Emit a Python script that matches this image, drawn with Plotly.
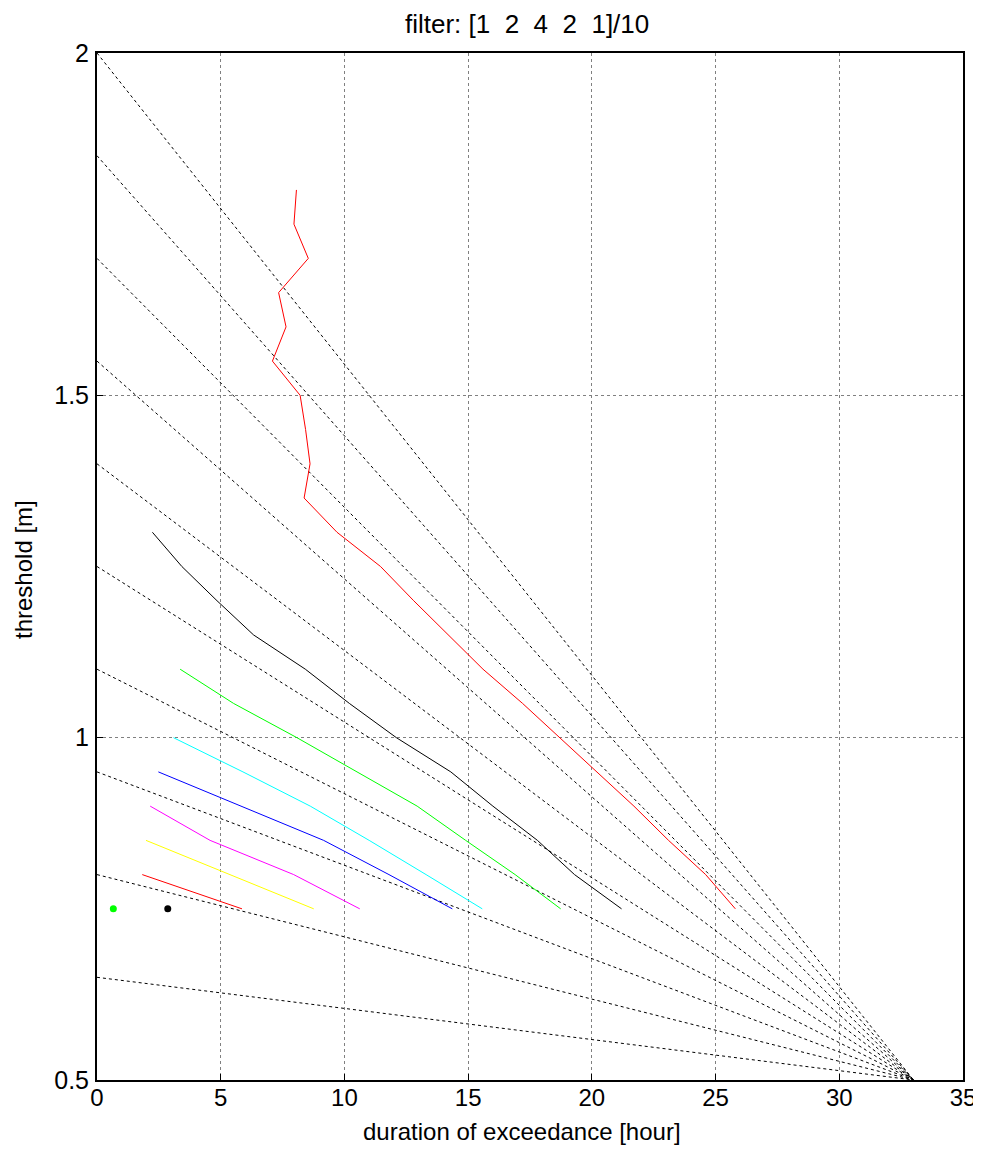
import plotly.graph_objects as go

# Reference lines: start thresholds at x=0, all converge to (33, 0.5)
ref_start = [2.0, 1.85, 1.7, 1.55, 1.4, 1.25, 1.1, 0.95, 0.8, 0.65]
ref_end_x = 33.0
ref_end_y = 0.5

# Curves (duration [hour], threshold [m])
red1_y = [1.80, 1.75, 1.70, 1.65, 1.60, 1.55, 1.50, 1.45, 1.40, 1.35, 1.30, 1.25, 1.20, 1.15, 1.10, 1.05, 1.00, 0.95, 0.90, 0.85, 0.80, 0.75]
red1_x = [8.06, 7.96, 8.54, 7.34, 7.64, 7.09, 8.21, 8.43, 8.61, 8.37, 9.70, 11.46, 12.8, 14.2, 15.6, 17.2, 18.7, 20.2, 21.7, 23.1, 24.6, 25.8]

black_y = [1.30, 1.25, 1.20, 1.15, 1.10, 1.05, 1.00, 0.95, 0.90, 0.85, 0.80, 0.75]
black_x = [2.24, 3.43, 4.85, 6.33, 8.42, 10.2, 12.1, 14.3, 16.0, 17.8, 19.3, 21.2]

green_y = [1.10, 1.05, 1.00, 0.95, 0.90, 0.85, 0.80, 0.75]
green_x = [3.36, 5.52, 8.08, 10.5, 12.94, 14.9, 16.9, 18.74]

cyan_y = [1.00, 0.95, 0.90, 0.85, 0.80, 0.75]
cyan_x = [3.09, 5.9, 8.62, 11.0, 13.3, 15.57]

blue_y = [0.95, 0.90, 0.85, 0.80, 0.75]
blue_x = [2.48, 5.8, 9.16, 11.8, 14.36]

magenta_y = [0.90, 0.85, 0.80, 0.75]
magenta_x = [2.15, 4.57, 7.95, 10.62]

yellow_y = [0.85, 0.80, 0.75]
yellow_x = [1.98, 5.37, 8.76]

red2_y = [0.80, 0.75]
red2_x = [1.83, 5.86]

dot_green = (0.66, 0.75)
dot_black = (2.86, 0.75)

x_ticks = [0, 5, 10, 15, 20, 25, 30, 35]
y_ticks = [0.5, 1, 1.5, 2]
y_ticktext = ["0.5", "1", "1.5", "2"]

fig = go.Figure()

for y0 in ref_start:
    fig.add_trace(go.Scatter(x=[0, ref_end_x], y=[y0, ref_end_y], mode="lines",
                             line=dict(color="black", width=1, dash="dot"),
                             showlegend=False, hoverinfo="skip"))

curves = [
    (red1_x, red1_y, "#ff0000"),
    (black_x, black_y, "#000000"),
    (green_x, green_y, "#00ff00"),
    (cyan_x, cyan_y, "#00ffff"),
    (blue_x, blue_y, "#0000ff"),
    (magenta_x, magenta_y, "#ff00ff"),
    (yellow_x, yellow_y, "#ffff00"),
    (red2_x, red2_y, "#ff0000"),
]
for xs, ys, c in curves:
    fig.add_trace(go.Scatter(x=xs, y=ys, mode="lines", line=dict(color=c, width=1),
                             showlegend=False))

fig.add_trace(go.Scatter(x=[dot_green[0]], y=[dot_green[1]], mode="markers",
                         marker=dict(color="#00ff00", size=7), showlegend=False))
fig.add_trace(go.Scatter(x=[dot_black[0]], y=[dot_black[1]], mode="markers",
                         marker=dict(color="#000000", size=7), showlegend=False))

font_family = "Liberation Sans, Arial, sans-serif"
nb = "\u00a0"
title_text = f"filter: [1{nb*2}2{nb*2}4{nb*2}2{nb*2}1]/10"

# page body has an 8px margin, so the figure is reduced by 8px
fig.update_layout(
    width=973, height=1143,
    margin=dict(l=89, r=18, t=45, b=71, autoexpand=False),
    paper_bgcolor="white", plot_bgcolor="white",
    font=dict(family=font_family, color="black", size=25),
    xaxis=dict(range=[0, 35], tickvals=x_ticks,
               showgrid=True, gridcolor="#808080", griddash="dot", gridwidth=1,
               showline=True, linecolor="black", linewidth=2, mirror=True,
               ticks="inside", ticklen=6, tickcolor="black",
               zeroline=False, ticklabelstandoff=-5,
               tickfont=dict(size=24)),
    yaxis=dict(range=[0.5, 2], tickvals=y_ticks, ticktext=y_ticktext,
               showgrid=True, gridcolor="#808080", griddash="dot", gridwidth=1,
               showline=True, linecolor="black", linewidth=2, mirror=True,
               ticks="inside", ticklen=6, tickcolor="black",
               zeroline=False, ticklabelstandoff=1,
               tickfont=dict(size=25)),
    annotations=[
        dict(text=title_text, xref="paper", yref="paper", x=0.497, y=1,
             xanchor="center", yanchor="middle", yshift=29, showarrow=False,
             font=dict(size=26)),
        dict(text="duration of exceedance [hour]", xref="paper", yref="paper",
             x=0.4908, y=0, xanchor="center", yanchor="middle", yshift=-51,
             showarrow=False, font=dict(size=24)),
        dict(text="threshold [m]", xref="paper", yref="paper", x=0, y=0.4966,
             xanchor="center", yanchor="middle", xshift=-73, textangle=-90,
             showarrow=False, font=dict(size=24)),
    ],
)

fig.write_html("out.html")
